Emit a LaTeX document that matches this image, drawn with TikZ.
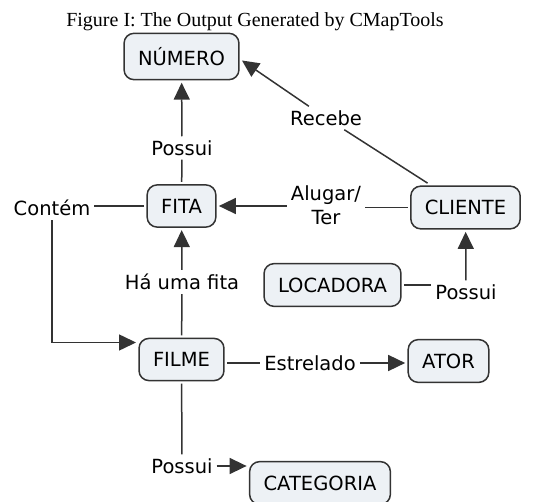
\documentclass[tikz,border=0pt]{standalone}
\usepackage{fontspec}
\setmainfont{Liberation Serif}
\newfontfamily\mapfont{DejaVu Sans}
\usetikzlibrary{arrows.meta}
\definecolor{boxfill}{HTML}{EDF1F5}
\definecolor{boxline}{HTML}{333333}

\begin{document}
\begin{tikzpicture}[
    x=1pt, y=-1pt,
    concept/.style={rectangle, rounded corners=10pt, draw=boxline, fill=boxfill, line width=1.5pt,
        inner xsep=14pt, inner ysep=14pt, outer sep=3pt, font=\mapfont\fontsize{19.5}{24}\selectfont},
    phrase/.style={inner sep=4pt, align=center, font=\mapfont\fontsize{19.5}{24}\selectfont},
    link/.style={line width=1.5pt, draw=boxline},
    linkarr/.style={link, -{Triangle[length=17pt, width=16pt]}},
]
\useasboundingbox (0,0) rectangle (535,502);

% Заголовок
\node[anchor=base, font=\fontsize{20}{24}\selectfont] (title) at (255, 27) {Figure I: The Output Generated by CMapTools};

% Понятия
\node[concept] (numero) at (181.5, 56.5) {NÚMERO};
\node[concept] (fita) at (181.5, 206) {FITA};
\node[concept] (cliente) at (465.5, 207.5) {CLIENTE};
\node[concept] (locadora) at (332.5, 285) {LOCADORA};
\node[concept] (filme) at (181.5, 359.5) {FILME};
\node[concept] (ator) at (448.5, 361) {ATOR};
\node[concept] (categoria) at (320, 483) {CATEGORIA};

% Связующие фразы
\node[phrase] (possui1) at (182, 148) {Possui};
\node[phrase] (recebe) at (326, 118) {Recebe};
\node[phrase] (contem) at (52, 208) {Contém};
\node[phrase] (alugar) at (326, 205) {Alugar/\\Ter};
\node[phrase] (hauma) at (182, 282) {Há uma fita};
\node[phrase] (possui2) at (466, 292) {Possui};
\node[phrase] (estrelado) at (310, 363) {Estrelado};
\node[phrase] (possui3) at (182, 466) {Possui};

% Связи к NÚMERO
\draw[link] (fita) -- (possui1);
\draw[linkarr] (possui1) -- (numero);
\draw[link] (cliente) -- (recebe);
\draw[linkarr] (recebe) -- ([yshift=-4pt]numero.east);

% Связи к FITA
\draw[link] (cliente) -- (cliente -| alugar.east);
\draw[linkarr] (alugar.west |- fita) -- (fita);
\draw[link] (filme) -- (hauma);
\draw[linkarr] (hauma) -- (fita);

% Связи от FITA к FILME
\draw[link] (fita) -- (fita -| contem.east);
\draw[linkarr] (contem) |- ([yshift=17pt]filme.west);

% Связи к CLIENTE
\draw[link] (locadora) -- (locadora -| possui2.west);
\draw[linkarr] (possui2) -- (cliente);

% Связи от FILME
\draw[link] (filme.east |- estrelado) -- (estrelado);
\draw[linkarr] (estrelado) -- (estrelado -| ator.west);
\draw[link] (filme) -- (possui3);
\draw[linkarr] (possui3) -- (possui3 -| categoria.west);

\end{tikzpicture}
\end{document}
